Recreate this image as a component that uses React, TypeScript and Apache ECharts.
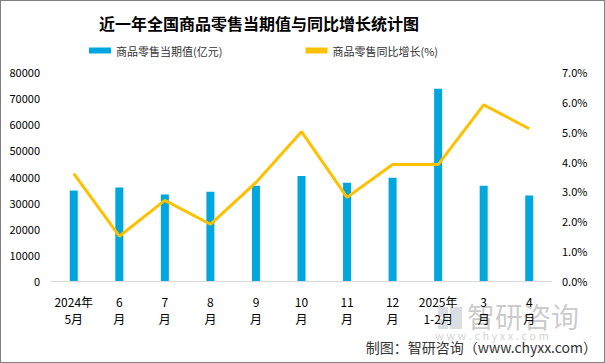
import React, { useEffect, useRef } from "react";
import * as echarts from "echarts";

const categories = ["2024年\n5月", "6\n月", "7\n月", "8\n月", "9\n月", "10\n月", "11\n月", "12\n月", "2025年\n1-2月", "3\n月", "4\n月"];
const retailValues = [34600, 35800, 33100, 34200, 36500, 40200, 37600, 39500, 73600, 36500, 32700];
const growthRates = [3.6, 1.5, 2.7, 1.9, 3.3, 5.0, 2.8, 3.9, 3.9, 5.9, 5.1];
const barName = "商品零售当期值(亿元)";
const lineName = "商品零售同比增长(%)";

export default function App() {
  const ref = useRef<HTMLDivElement>(null);
  useEffect(() => {
    document.body.style.margin = "0";
    const chart = echarts.init(ref.current!, null, { renderer: "svg" });
    const font = "'Noto Sans CJK SC', sans-serif";
    chart.setOption({
      animation: false,
      backgroundColor: "#fff",
      textStyle: { fontFamily: font },
      title: {
        text: "近一年全国商品零售当期值与同比增长统计图",
        left: 93,
        top: 9,
        textStyle: { fontSize: 16, fontWeight: "bold", color: "#000", fontFamily: font },
      },
      legend: {
        left: 83,
        top: 39,
        itemGap: 83,
        itemWidth: 22,
        itemHeight: 6,
        textStyle: { fontSize: 11, color: "#333", fontFamily: font },
        data: [
          { name: barName, icon: "rect" },
          { name: lineName, icon: "rect", itemStyle: { color: "#FFC000" } },
        ],
      },
      grid: { left: 50, right: 52, top: 71, bottom: 81 },
      xAxis: {
        type: "category",
        data: categories,
        axisLine: { lineStyle: { color: "#d9d9d9", width: 1 } },
        axisTick: { show: false },
        axisLabel: { color: "#000", fontSize: 12, lineHeight: 17, margin: 12, interval: 0 },
      },
      yAxis: [
        {
          type: "value",
          min: 0,
          max: 80000,
          interval: 10000,
          splitLine: { show: false },
          axisLine: { show: false },
          axisTick: { show: false },
          axisLabel: { color: "#000", fontSize: 11, margin: 11, formatter: (v: number) => String(v) },
        },
        {
          type: "value",
          min: 0,
          max: 7,
          interval: 1,
          splitLine: { show: false },
          axisLine: { show: false },
          axisTick: { show: false },
          axisLabel: { color: "#000", fontSize: 11, margin: 10, formatter: (v: number) => v.toFixed(1) + "%" },
        },
      ],
      series: [
        {
          name: barName,
          type: "bar",
          data: retailValues,
          barWidth: 8,
          itemStyle: { color: "#00A6DE" },
        },
        {
          name: lineName,
          type: "line",
          yAxisIndex: 1,
          data: growthRates,
          symbol: "none",
          lineStyle: { color: "#FFC000", width: 3 },
          itemStyle: { color: "#FFC000" },
        },
      ],
      graphic: [
        { type: "rect", left: 437, top: 306, shape: { width: 10, height: 10 }, style: { fill: "rgba(150,160,175,0.35)" }, silent: true },
        { type: "rect", left: 449, top: 306, shape: { width: 12, height: 22 }, style: { fill: "rgba(150,160,175,0.35)" }, silent: true },
        { type: "rect", left: 437, top: 318, shape: { width: 10, height: 10 }, style: { fill: "rgba(150,160,175,0.35)" }, silent: true },
        {
          type: "text",
          left: 466,
          top: 301,
          style: { text: "智研咨询", fontSize: 28, fill: "rgba(140,140,140,0.45)", fontFamily: font },
          silent: true,
        },
        {
          type: "text",
          left: 434,
          top: 328,
          style: { text: "w w w . c h y x x . c o m", fontSize: 11, fill: "rgba(140,140,140,0.4)", fontFamily: font },
          silent: true,
        },
        {
          type: "text",
          right: 7,
          top: 339,
          style: { text: "制图：智研咨询（www.chyxx.com）", fontSize: 14, fill: "#333", fontFamily: font },
        },
      ],
    });
    return () => chart.dispose();
  }, []);
  return (
    <div
      ref={ref}
      style={{ width: 605, height: 363, boxSizing: "border-box", border: "1px solid #7f7f7f" }}
    />
  );
}
